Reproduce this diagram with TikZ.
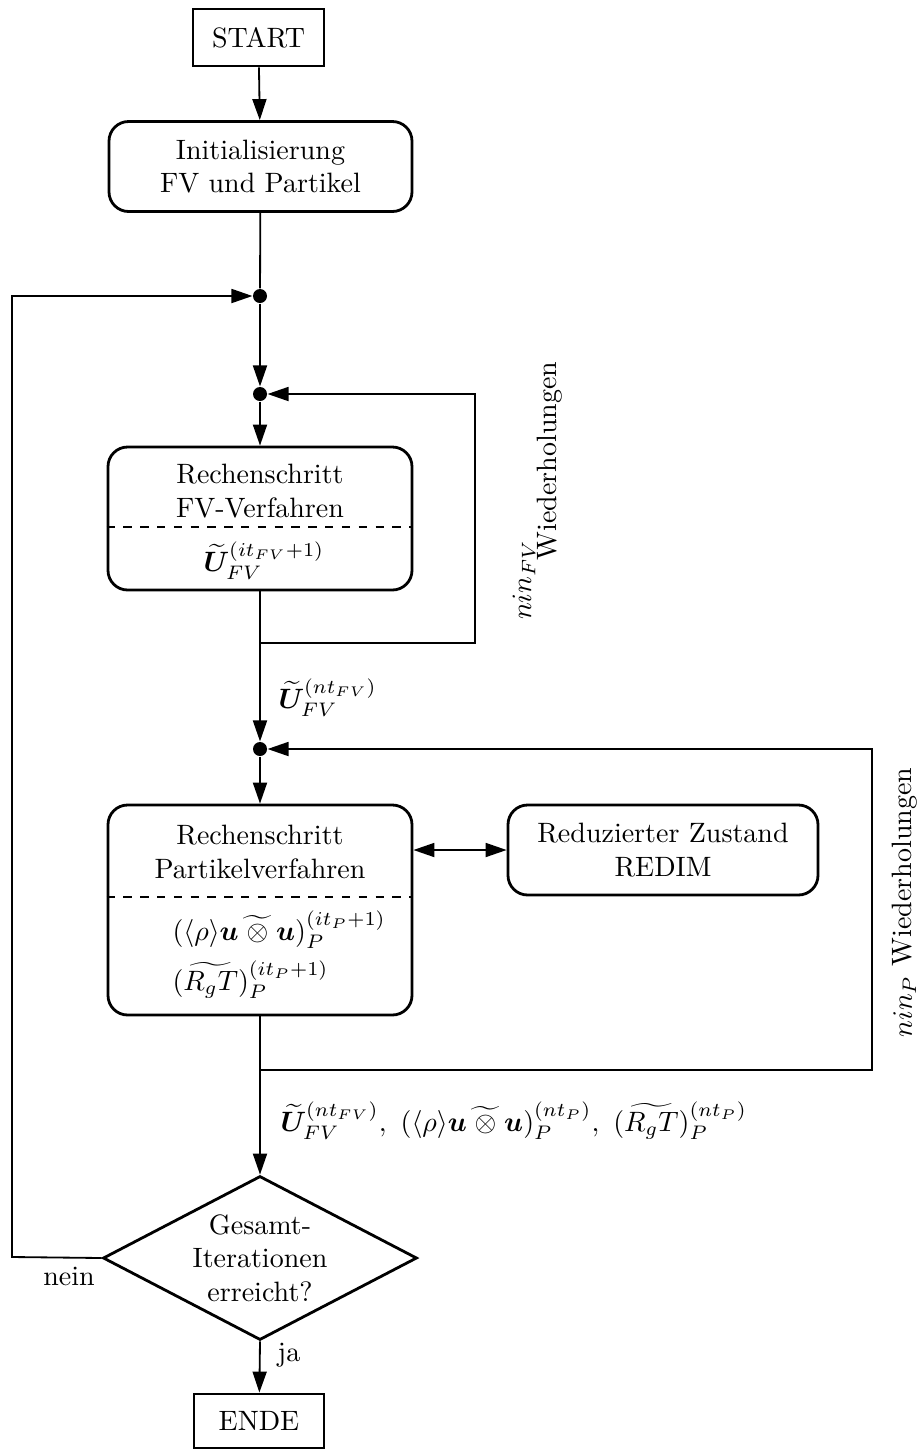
\documentclass[tikz,border=0pt]{standalone}
\usepackage{amsmath,bm}
\usetikzlibrary{shapes.geometric,arrows.meta}
\newlength\pxu
\setlength\pxu{0.357pt}
\tikzset{
  sqbox/.style={draw,line width=1pt,inner sep=2pt},
  rbox/.style={draw,line width=1pt,rounded corners=7pt,align=center,inner sep=2pt},
  txt/.style={align=center,inner sep=0pt},
  dot/.style={circle,fill=black,inner sep=0pt,minimum size=14\pxu},
  conn/.style={line width=0.65pt},
  arr/.style={conn,-{Triangle[length=7.5pt,width=5pt]}},
  darr/.style={conn,{Triangle[length=7.5pt,width=5pt]}-{Triangle[length=7.5pt,width=5pt]}},
  decision/.style={draw,diamond,line width=1pt,inner sep=0pt},
}
\begin{document}
\begin{tikzpicture}[x=0.357pt,y=-0.357pt]
\useasboundingbox (0,0) rectangle (920,1450);

% boxes
\node[sqbox,minimum width=131\pxu,minimum height=57\pxu] (start) at (258.5,37.5) {START};
\node[rbox,minimum width=303\pxu,minimum height=90\pxu] (init) at (260.5,166.5)
  {Initialisierung\\FV und Partikel};

\node[dot] (d1) at (260,296) {};
\node[dot] (d2) at (260,394) {};

\node[rbox,minimum width=304\pxu,minimum height=143\pxu] (fv) at (260,518.5) {};
\node[txt] (fvtop) at (260,491) {Rechenschritt\\FV-Verfahren};
\node[txt] (fvbot) at (264,561) {$\widetilde{\bm{U}}_{FV}^{(it_{FV}+1)}$};
\draw[dashed,conn] (fv.west |- 0,527) -- (fv.east |- 0,527);

\node[dot] (d3) at (260,749) {};

\node[rbox,minimum width=304\pxu,minimum height=210\pxu] (pv) at (260,910) {};
\node[txt] (pvtop) at (260,852) {Rechenschritt\\Partikelverfahren};
\node[txt,anchor=west] (pvf1) at (172,930) {$(\langle\rho\rangle\bm{u}\widetilde{\;\otimes\;}\bm{u})_P^{(it_P+1)}$};
\node[txt,anchor=west] (pvf2) at (172,980) {$(\widetilde{R_gT})_P^{(it_P+1)}$};
\draw[dashed,conn] (pv.west |- 0,897) -- (pv.east |- 0,897);

\node[rbox,minimum width=310\pxu,minimum height=90\pxu] (redim) at (663,850)
  {Reduzierter Zustand\\REDIM};

\node[decision,minimum width=314\pxu,minimum height=164\pxu] (dec) at (260,1258) {};
\node[txt] (dectxt) at (260,1258) {Gesamt-\\Iterationen\\erreicht?};

\node[sqbox,minimum width=130\pxu,minimum height=54\pxu] (ende) at (259,1421) {ENDE};

% helper points of the loops
\coordinate (j1) at (260,643);
\coordinate (c1) at (475,394);
\coordinate (j2) at (260,1070);
\coordinate (c2) at (872,749);
\coordinate (c3) at (12,1257);

% connectors
\draw[arr] (start) -- (init);
\draw[conn] (init) -- (d1);
\draw[arr] (d1) -- (d2);
\draw[arr] (d2) -- (fv);
\draw[arr] (fv) -- (d3);
\draw[arr] (j1) -| (c1) -- (d2);
\draw[arr] (d3) -- (pv);
\draw[darr] (pv.east |- redim.west) -- (redim.west);
\draw[arr] (pv) -- (dec.north);
\draw[arr] (j2) -| (c2) -- (d3);
\draw[arr] (dec.west) -- (c3) |- (d1);
\draw[arr] (dec.south) -- (ende);

% labels
\node[anchor=west,inner sep=0pt] (lnt) at (278,698) {$\widetilde{\bm{U}}_{FV}^{(nt_{FV})}$};
\node[anchor=west,inner sep=0pt] (lall) at (280,1121)
  {$\widetilde{\bm{U}}_{FV}^{(nt_{FV})},\ (\langle\rho\rangle\bm{u}\widetilde{\;\otimes\;}\bm{u})_P^{(nt_P)},\ (\widetilde{R_gT})_P^{(nt_P)}$};
\node[rotate=90,inner sep=0pt] (lfv1) at (524,580) {$nin_{FV}$};
\node[rotate=90,inner sep=0pt] (lfv2) at (550,461) {Wiederholungen};
\node[rotate=90,anchor=east,inner sep=0pt] (lp) at (905,767) {$nin_P$ Wiederholungen};
\node[inner sep=0pt] (lnein) at (69,1276) {nein};
\node[inner sep=0pt] (lja) at (289,1355) {ja};
\end{tikzpicture}
\end{document}
